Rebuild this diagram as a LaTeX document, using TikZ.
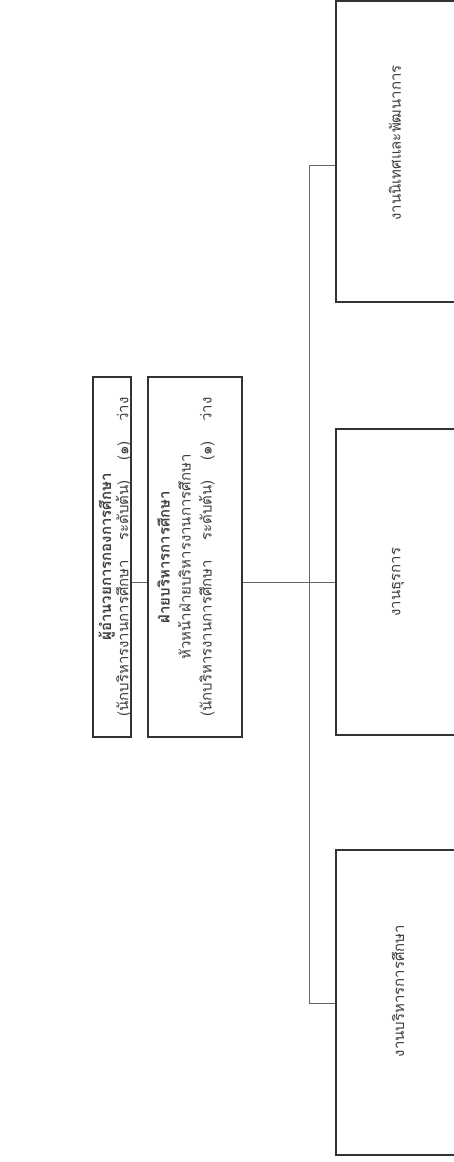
\documentclass[tikz,border=0pt]{standalone}
\usepackage{fontspec}
\setmainfont[Script=Thai]{Loma}
\begin{document}
\begin{tikzpicture}[x=1pt,y=-1pt,
  box/.style={draw=black!80, line width=1.1pt, inner sep=0pt},
  lbl/.style={rotate=90, align=center, text=black!75, inner sep=0pt},
  conn/.style={draw=black!60, line width=0.6pt}]
\useasboundingbox (0,0) rectangle (454,1162);
\fill[white] (0,0) rectangle (454,1162);
% upper boxes
\node[box, minimum width=38pt, minimum height=360pt] (b1) at (112,557) {};
\node[box, minimum width=94pt, minimum height=360pt] (b2) at (195,557) {};
% lower boxes
\node[box, minimum width=122pt, minimum height=301pt] (bA) at (397,151.5) {};
\node[box, minimum width=122pt, minimum height=306pt] (bB) at (397,582) {};
\node[box, minimum width=122pt, minimum height=305pt] (bC) at (397,1002.5) {};
% texts
\node[lbl, font=\fontsize{15}{15}\selectfont] (t1) at (115,557)
  {\textbf{ผู้อำนวยการกองการศึกษา}\\(นักบริหารงานการศึกษา\hspace{1.3em}ระดับต้น)\hspace{1.3em}(๑)\hspace{1.3em}ว่าง};
\node[lbl, font=\fontsize{15}{21}\selectfont] (t2) at (186,557)
  {\textbf{ฝ่ายบริหารการศึกษา}\\หัวหน้าฝ่ายบริหารงานการศึกษา\\(นักบริหารงานการศึกษา\hspace{1.3em}ระดับต้น)\hspace{1.3em}(๑)\hspace{1.3em}ว่าง};
\node[lbl, font=\fontsize{15}{15}\selectfont] (tA) at (395,143) {งานนิเทศและพัฒนาการ};
\node[lbl, font=\fontsize{15}{15}\selectfont] (tB) at (398,582) {งานธุรการ};
\node[lbl, font=\fontsize{15}{15}\selectfont] (tC) at (398,991) {งานบริหารการศึกษา};
% connectors
\coordinate (jA) at (309,165);
\coordinate (jC) at (309,1003);
\draw[conn] (b1.east |- bB.west) -- (b2.west |- bB.west);
\draw[conn] (b2.east |- bB.west) -- (bB.west);
\draw[conn] (jA) -- (jC);
\draw[conn] (jA) -- (jA -| bA.west);
\draw[conn] (jC) -- (jC -| bC.west);
\end{tikzpicture}
\end{document}
